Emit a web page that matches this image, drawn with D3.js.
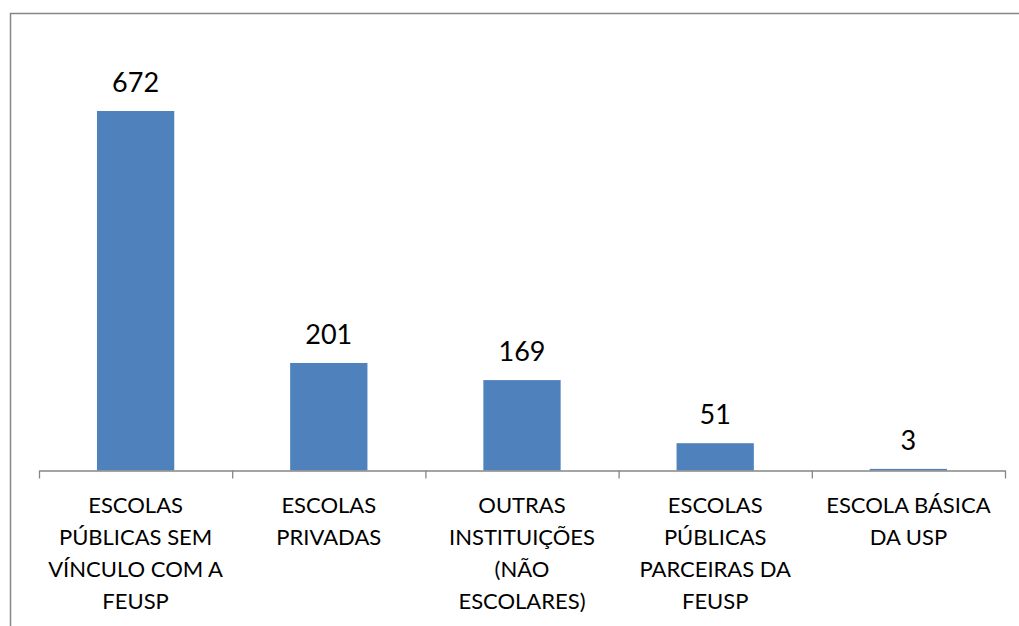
<!DOCTYPE html>
<html lang="pt">
  <head>
    <meta charset="utf-8">
    <title>Instituições</title>
    <style>
      body { margin: 0; background: #fff; }
      svg text { font-family: Lato, "Open Sans", sans-serif; fill: #000; }
    </style>
    <script src="https://cdn.jsdelivr.net/npm/d3@7"></script>
  </head>
  <body>
    <svg id="chart" width="1019" height="626"></svg>
    <script>
      // data
      var categories = [
        "ESCOLAS\nPÚBLICAS SEM\nVÍNCULO COM A\nFEUSP",
        "ESCOLAS\nPRIVADAS",
        "OUTRAS\nINSTITUIÇÕES\n(NÃO\nESCOLARES)",
        "ESCOLAS\nPÚBLICAS\nPARCEIRAS DA\nFEUSP",
        "ESCOLA BÁSICA\nDA USP"
      ];
      var values = [672, 201, 169, 51, 3];
      var yMax = 800;

      var svg = d3.select('#chart');
      var plotLeft = 39, plotRight = 1005, plotBase = 470.5, plotTop = 42.5;

      // outer frame, runs off the right and bottom edge like the original
      svg.append('rect')
        .attr('x', 10.5).attr('y', 13.5)
        .attr('width', 1100).attr('height', 700)
        .style('fill', 'none').style('stroke', '#878787').style('stroke-width', 1.5);

      var x = d3.scaleBand().domain(d3.range(categories.length))
        .range([plotLeft, plotRight]).paddingInner(0.6).paddingOuter(0.3);
      var y = d3.scaleLinear().domain([0, yMax]).range([plotBase, plotTop]);

      svg.selectAll('rect.bar').data(values).enter().append('rect')
        .attr('class', 'bar')
        .attr('x', function(d, i) { return x(i); })
        .attr('width', x.bandwidth())
        .attr('y', function(d) { return y(d); })
        .attr('height', function(d) { return plotBase - y(d); })
        .style('fill', '#4f81bd');

      // category axis with ticks between the bars
      var edge = d3.scaleLinear().domain([0, categories.length]).range([plotLeft, plotRight]);
      var axis = svg.append('g').attr('transform', 'translate(0,' + plotBase + ')')
        .call(d3.axisBottom(edge).tickValues(d3.range(categories.length + 1))
          .tickSize(8).tickSizeOuter(0).tickFormat(''));
      axis.selectAll('path, line').style('stroke', '#868686').style('stroke-width', 1.3);

      // value labels
      svg.selectAll('text.val').data(values).enter().append('text')
        .attr('class', 'val')
        .attr('x', function(d, i) { return x(i) + x.bandwidth() / 2; })
        .attr('y', function(d) { return y(d) - 19; })
        .attr('text-anchor', 'middle')
        .style('font-size', '27px')
        .text(function(d) { return d; });

      // category labels
      svg.selectAll('text.cat').data(categories).enter().append('text')
        .attr('class', 'cat')
        .attr('text-anchor', 'middle')
        .style('font-size', '22px')
        .each(function(d, i) {
          var t = d3.select(this);
          d.split('\n').forEach(function(line, k) {
            t.append('tspan')
              .attr('x', x(i) + x.bandwidth() / 2)
              .attr('y', 513 + k * 32)
              .text(line);
          });
        });
    </script>
  </body>
</html>
